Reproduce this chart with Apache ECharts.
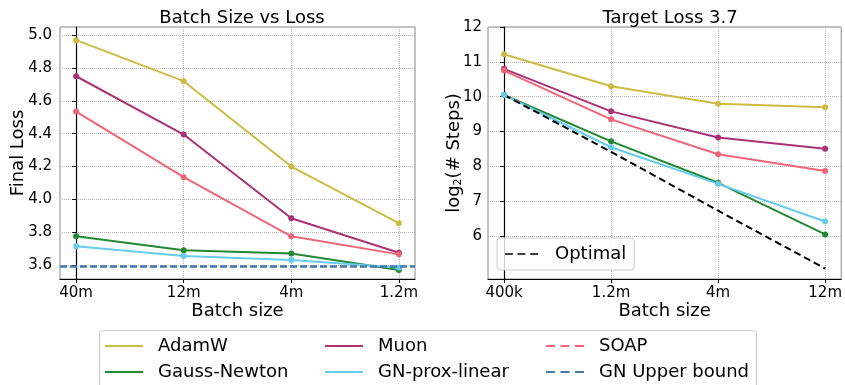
<!DOCTYPE html>
<html>
<head>
<meta charset="utf-8">
<script src="https://cdn.jsdelivr.net/npm/echarts@6/dist/echarts.min.js"></script>
<style>
  html, body { margin: 0; padding: 0; background: #fff; }
  #chart { width: 845px; height: 385px; }
</style>
</head>
<body>
<div id="chart"></div>
<script>
// left panel: final loss per batch size
const leftBatch = ['40m', '12m', '4m', '1.2m'];
const leftAdamW = [4.97, 4.72, 4.20, 3.855];
const leftMuon = [4.75, 4.395, 3.885, 3.675];
const leftSoap = [4.535, 4.135, 3.775, 3.665];
const leftGN = [3.775, 3.69, 3.67, 3.57];
const leftGNProx = [3.715, 3.655, 3.63, 3.585];
const gnUpperBound = 3.588;
const leftTicks = [3.6, 3.8, 4.0, 4.2, 4.4, 4.6, 4.8, 5.0];

// right panel: log2 steps to reach target loss 3.7
const rightBatch = ['400k', '1.2m', '4m', '12m'];
const rightAdamW = [11.22, 10.3, 9.8, 9.7];
const rightMuon = [10.8, 9.58, 8.83, 8.51];
const rightSoap = [10.75, 9.35, 8.35, 7.87];
const rightGN = [10.05, 8.72, 7.53, 6.05];
const rightGNProx = [10.05, 8.55, 7.5, 6.42];
const rightOptimal = [10.05, 8.42, 6.73, 5.07];
const rightTicks = [6, 7, 8, 9, 10, 11, 12];

// bottom legend, row by row
const legendNames = ['AdamW', 'Muon', 'SOAP', 'Gauss-Newton', 'GN-prox-linear', 'GN Upper bound'];
const legendDashed = ['SOAP', 'GN Upper bound'];

const C = {
  adamw: '#CCBB44', muon: '#AA3377', soap: '#EE6677',
  gn: '#228833', prox: '#66CCEE', ub: '#4477AA'
};
const FONT = 'DejaVu Sans';
const pts = arr => arr.map((v, i) => [i, v]);

const chart = echarts.init(document.getElementById('chart'), null, { renderer: 'canvas' });

function xAxisFor(idx, labels) {
  return {
    type: 'value', gridIndex: idx, min: -0.15, max: 3.15,
    name: 'Batch size', nameLocation: 'middle', nameGap: 23, nameMoveOverlap: false,
    nameTextStyle: { fontFamily: FONT, fontSize: 18, color: '#000' },
    axisLine: { lineStyle: { color: '#000', width: 1.2 } },
    axisTick: { show: true, customValues: [0, 1, 2, 3], length: 4, lineStyle: { color: '#000' } },
    axisLabel: {
      customValues: [0, 1, 2, 3], formatter: v => labels[Math.round(v)],
      fontFamily: FONT, fontSize: 15, color: '#000', margin: 7
    },
    splitLine: { show: true, lineStyle: { color: '#b8b8b8', type: 'dotted', width: 1 } }
  };
}

function yAxisFor(idx, ticks, min, max, name, gap) {
  return {
    type: 'value', gridIndex: idx, min: min, max: max,
    name: name, nameLocation: 'middle', nameGap: gap, nameMoveOverlap: false,
    nameTextStyle: {
      fontFamily: FONT, fontSize: 18, color: '#000',
      rich: { sub: { fontFamily: FONT, fontSize: 11, color: '#000', padding: [8, 0, 0, 0] } }
    },
    axisLine: { show: true, lineStyle: { color: '#000', width: 1.2 } },
    axisTick: { show: true, customValues: ticks, length: 4, lineStyle: { color: '#000' } },
    axisLabel: {
      customValues: ticks, formatter: v => idx === 0 ? v.toFixed(1) : String(v),
      fontFamily: FONT, fontSize: 15, color: '#000', margin: idx === 0 ? 8 : 6
    },
    splitLine: { show: true, lineStyle: { color: '#b8b8b8', type: 'dotted', width: 1 } }
  };
}

function lineSeries(name, data, color, idx) {
  return {
    name: name, type: 'line', xAxisIndex: idx, yAxisIndex: idx,
    data: pts(data), symbol: 'circle', symbolSize: 6,
    lineStyle: { color: color, width: 2 }, itemStyle: { color: color },
    emphasis: { disabled: true }
  };
}

const solid = 'path://M0,0h38v2h-38z';
const dashed = 'path://M0,0h9v2h-9z M14.5,0h9v2h-9z M29,0h9v2h-9z';

// one legend per cell so the three columns line up like the original
const colX = [105, 325, 546];
const rowY = [336, 362];
const bottomLegends = legendNames.map((name, i) => ({
  data: [{ name: name, icon: legendDashed.includes(name) ? dashed : solid }],
  left: colX[i % 3], top: rowY[Math.floor(i / 3)], padding: 0,
  itemWidth: 38, itemHeight: 2.5,
  textStyle: { fontFamily: FONT, fontSize: 18, color: '#000', lineHeight: 20, padding: [0, 0, 0, 10] },
  selectedMode: false
}));

const option = {
  backgroundColor: '#fff',
  animation: false,
  title: [
    { text: 'Batch Size vs Loss', left: 237, top: 4, textAlign: 'center',
      textStyle: { fontFamily: FONT, fontSize: 18, fontWeight: 'normal', color: '#000' } },
    { text: 'Target Loss 3.7', left: 665, top: 4, textAlign: 'center',
      textStyle: { fontFamily: FONT, fontSize: 18, fontWeight: 'normal', color: '#000' } }
  ],
  grid: [
    { left: 60, top: 27, width: 355, height: 252, show: true, borderColor: '#888', borderWidth: 1 },
    { left: 488, top: 27, width: 355, height: 252, show: true, borderColor: '#888', borderWidth: 1 }
  ],
  graphic: [{
    type: 'rect', left: 99, top: 330, silent: true,
    shape: { width: 657, height: 70, r: 3 },
    style: { fill: '#fff', stroke: '#ccc', lineWidth: 1 }, z: -1
  }],
  xAxis: [xAxisFor(0, leftBatch), xAxisFor(1, rightBatch)],
  yAxis: [
    yAxisFor(0, leftTicks, 3.515, 5.05, 'Final Loss', 33),
    yAxisFor(1, rightTicks, 4.77, 12, 'log{sub|2}(# Steps)', 24)
  ],
  legend: bottomLegends.concat([{
    data: [{ name: 'Optimal', icon: dashed }],
    left: 497, top: 238, padding: [6, 8, 6, 8],
    itemWidth: 33, itemHeight: 2.5,
    borderColor: '#ccc', borderWidth: 1, borderRadius: 3, backgroundColor: 'rgba(255,255,255,0.8)',
    textStyle: { fontFamily: FONT, fontSize: 18, color: '#000', lineHeight: 20, padding: [0, 0, 0, 12] },
    selectedMode: false
  }]),
  series: [
    lineSeries('AdamW', leftAdamW, C.adamw, 0),
    lineSeries('Muon', leftMuon, C.muon, 0),
    lineSeries('SOAP', leftSoap, C.soap, 0),
    lineSeries('Gauss-Newton', leftGN, C.gn, 0),
    lineSeries('GN-prox-linear', leftGNProx, C.prox, 0),
    {
      name: 'GN Upper bound', type: 'line', xAxisIndex: 0, yAxisIndex: 0, data: [],
      lineStyle: { color: C.ub, type: 'dashed' }, itemStyle: { color: C.ub },
      markLine: {
        symbol: 'none', silent: true, label: { show: false },
        lineStyle: { color: C.ub, type: [7, 3], width: 2.5 },
        data: [{ yAxis: gnUpperBound }]
      }
    },
    lineSeries('AdamW', rightAdamW, C.adamw, 1),
    lineSeries('Muon', rightMuon, C.muon, 1),
    lineSeries('SOAP', rightSoap, C.soap, 1),
    lineSeries('Gauss-Newton', rightGN, C.gn, 1),
    lineSeries('GN-prox-linear', rightGNProx, C.prox, 1),
    {
      name: 'Optimal', type: 'line', xAxisIndex: 1, yAxisIndex: 1,
      data: pts(rightOptimal), showSymbol: false,
      lineStyle: { color: '#000', width: 2, type: [7, 4] }, itemStyle: { color: '#000' }
    }
  ]
};

chart.setOption(option);
</script>
</body>
</html>
